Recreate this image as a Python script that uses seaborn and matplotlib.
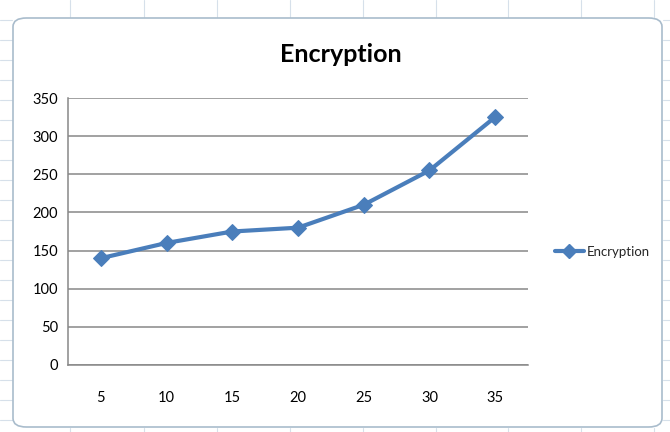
import matplotlib
matplotlib.use("Agg")
import matplotlib.pyplot as plt
from matplotlib.patches import FancyBboxPatch
from matplotlib.lines import Line2D
import seaborn as sns
import pandas as pd
import numpy as np

categories = ["5", "10", "15", "20", "25", "30", "35"]
encryption = [140, 160, 175, 180, 210, 255, 325]
y_ticks = [0, 50, 100, 150, 200, 250, 300, 350]
title_text = "Encryption"
series_name = "Encryption"

sns.set_style("white")
plt.rcParams['font.family'] = ['Lato', 'DejaVu Sans']

W, H = 670, 432
fig = plt.figure(figsize=(W / 100, H / 100), dpi=100)
fig.patch.set_facecolor("white")

# spreadsheet grid in the background
for xv in [70, 144, 217, 290, 363, 436, 508, 581, 654]:
    fig.add_artist(Line2D([xv / W, xv / W], [1 - 17 / H, 1], color="#d6e0ea", lw=0.8, zorder=0.1))
    fig.add_artist(Line2D([xv / W, xv / W], [0, 1 - 428 / H], color="#d6e0ea", lw=0.8, zorder=0.1))
for yv in range(20, 432, 20):
    fig.add_artist(Line2D([0, 12 / W], [1 - yv / H, 1 - yv / H], color="#d6e0ea", lw=0.8, zorder=0.1))
    fig.add_artist(Line2D([663 / W, 1], [1 - yv / H, 1 - yv / H], color="#d6e0ea", lw=0.8, zorder=0.1))

# chart area with rounded corners
chart = FancyBboxPatch((13 / W, 1 - 427 / H), (662 - 13) / W, (427 - 18) / H,
                       boxstyle="round,pad=0.0,rounding_size=0.02",
                       transform=fig.transFigure, facecolor="white",
                       edgecolor="#a9bccc", lw=1.2, zorder=0.5)
fig.add_artist(chart)

ax = fig.add_axes([68 / W, 1 - 365 / H, (528 - 68) / W, (365 - 98) / H])
ax.set_zorder(2)
ax.set_facecolor("none")

df = pd.DataFrame({"x": categories, "y": encryption})
sns.lineplot(data=df, x="x", y="y", ax=ax, sort=False, color="#4a7ebb",
             linewidth=3.0, marker="D", markersize=8, markeredgecolor="#4a7ebb",
             label=series_name, legend=False)

ax.set_ylim(0, 350)
ax.set_xlim(-0.5, len(categories) - 0.5)
ax.set_yticks(y_ticks)
ax.yaxis.grid(True, color="#888888", linewidth=1.1)
ax.set_axisbelow(True)
for s in ["top", "right"]:
    ax.spines[s].set_visible(False)
for s in ["left", "bottom"]:
    ax.spines[s].set_color("#888888")
    ax.spines[s].set_linewidth(1.1)

ax.set_xticks(range(len(categories)))
ax.set_xticklabels(categories)
ax.set_xticks(np.arange(-0.5, len(categories), 1.0), minor=True)
ax.tick_params(axis="x", which="major", length=0, pad=19, labelsize=10.5, colors="black")
ax.tick_params(axis="x", which="minor", length=6, width=1.1, color="#888888", direction="out")
ax.tick_params(axis="y", which="major", length=5, width=1.1, color="#888888",
               direction="out", labelsize=10.5, pad=2, colors="black")
ax.set_xlabel("")
ax.set_ylabel("")

fig.text(341 / W, 1 - 55 / H, title_text, ha="center", va="center",
         fontsize=18, fontweight="bold", color="black", zorder=3)

handle = Line2D([], [], color="#4a7ebb", lw=3.0, marker="D", markersize=7)
leg = fig.legend([handle], [series_name], loc="center left",
                 bbox_to_anchor=(543 / W, 1 - 252 / H), frameon=False,
                 fontsize=9.5, handlelength=2.2, handletextpad=0.2)
leg.set_zorder(3)

fig.savefig("out.png", dpi=100)
